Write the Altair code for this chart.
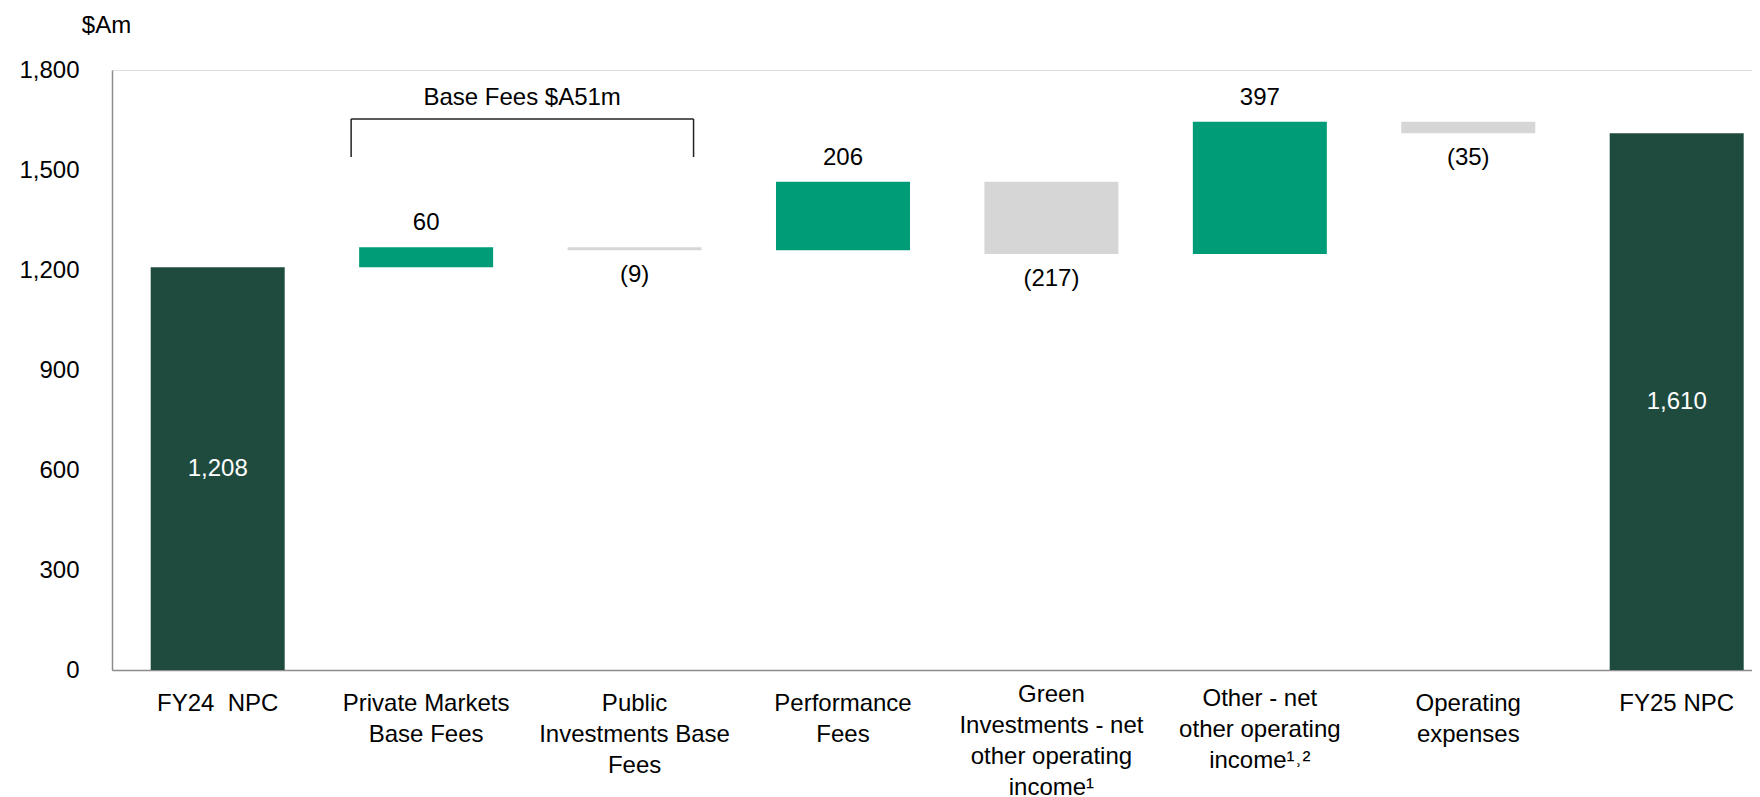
import altair as alt
import pandas as pd

# ---- data ----
categories = [
    "FY24\u00a0 NPC",
    "Private Markets|Base Fees",
    "Public|Investments Base|Fees",
    "Performance|Fees",
    "Green|Investments - net|other operating|income¹",
    "Other - net|other operating|income¹˒²",
    "Operating|expenses",
    "FY25 NPC",
]
changes = [1208, 60, -9, 206, -217, 397, -35, 1610]
kinds = ["total", "up", "down", "up", "down", "up", "down", "total"]
value_labels = ["1,208", "60", "(9)", "206", "(217)", "397", "(35)", "1,610"]
y_ticks = [0, 300, 600, 900, 1200, 1500, 1800]

bracket_text = ["Base Fees $A51m"]
bracket_from = [categories[1]]
bracket_to = [categories[2]]
bracket_top = [1653]
bracket_bottom = [1539]
bracket_text_y = [1716]

# ---- build waterfall table ----
starts, ends, label_y = [], [], []
level = 0
for c, k in zip(changes, kinds):
    if k == "total":
        starts.append(0)
        ends.append(c)
        label_y.append(c / 2)
        level = c
    else:
        starts.append(level)
        level += c
        ends.append(level)
        label_y.append(level)

df = pd.DataFrame({
    "cat": categories, "start": starts, "end": ends, "kind": kinds,
    "label": value_labels, "label_y": label_y,
})
br = pd.DataFrame({
    "cat": bracket_from, "cat_to": bracket_to, "top": bracket_top,
    "bottom": bracket_bottom, "text": bracket_text, "ty": bracket_text_y,
})

FONT = "Liberation Sans"
DARK = "#1F4B3F"
GREEN = "#009B77"
GREY = "#D6D6D6"

xscale = alt.Scale(domain=categories, paddingInner=0.3571, paddingOuter=0.11275,
                   align=0.8234, round=False)
yscale = alt.Scale(domain=[0, 1800], nice=False, zero=True)

xaxis = alt.Axis(
    title=None, labelAngle=0, ticks=False, tickSize=0, grid=False,
    labelExpr="split(datum.label, '|')", labelFontSize=24, labelFont=FONT,
    labelColor="#000000", labelBaseline="top",
    labelPadding={"condition": [
        {"test": "indexof(datum.value, 'Green') == 0", "value": 12},
        {"test": "indexof(datum.value, 'Other') == 0", "value": 16},
    ], "value": 21},
    labelLineHeight=31, labelLimit=400,
    domainColor="#8C8C8C", domainWidth=1.5,
)
yaxis = alt.Axis(
    values=y_ticks, labelExpr="format(datum.value, ',')", ticks=False, tickSize=0,
    grid=False, labelFontSize=24, labelFont=FONT, labelColor="#000000", labelPadding=33,
    domainColor="#8C8C8C", domainWidth=1.5,
    title="$Am", titleAngle=0, titleAlign="center", titleBaseline="middle",
    titleX=-6, titleY=-45, titleFontSize=24, titleFont=FONT,
    titleFontWeight="normal", titleColor="#000000",
)

X = alt.X("cat:N", sort=categories, scale=xscale, axis=xaxis)

def Y(field):
    return alt.Y(f"{field}:Q", scale=yscale, axis=yaxis)

base = alt.Chart(df)

bars = base.mark_bar().encode(
    x=X,
    y=Y("start"),
    y2="end:Q",
    color=alt.Color("kind:N", scale=alt.Scale(domain=["total", "up", "down"],
                                              range=[DARK, GREEN, GREY]), legend=None),
)

txt_total = base.transform_filter(alt.datum.kind == "total").mark_text(
    color="white", fontSize=24, font=FONT, baseline="middle"
).encode(x=X, y=Y("label_y"), text="label:N")

txt_up = base.transform_filter(alt.datum.kind == "up").mark_text(
    color="#000000", fontSize=24, font=FONT, baseline="middle", dy=-24
).encode(x=X, y=Y("label_y"), text="label:N")

txt_down = base.transform_filter(alt.datum.kind == "down").mark_text(
    color="#000000", fontSize=24, font=FONT, baseline="middle", dy=25
).encode(x=X, y=Y("label_y"), text="label:N")

bb = alt.Chart(br)
br_h = bb.mark_rule(color="#222222", strokeWidth=1.5, xOffset=-75, x2Offset=59).encode(
    x=X, x2="cat_to:N", y=Y("top"))
br_l = bb.mark_rule(color="#222222", strokeWidth=1.5, xOffset=-75).encode(
    x=X, y=Y("bottom"), y2="top:Q")
br_r = bb.mark_rule(color="#222222", strokeWidth=1.5, xOffset=59).encode(
    x=alt.X("cat_to:N", sort=categories, scale=xscale, axis=xaxis), y=Y("bottom"), y2="top:Q")
br_t = bb.mark_text(color="#000000", fontSize=24, font=FONT, baseline="middle", dx=96).encode(
    x=X, y=Y("ty"), text="text:N")

chart = alt.layer(bars, txt_total, txt_up, txt_down, br_h, br_l, br_r, br_t).properties(
    width=1640, height=600,
    autosize=alt.AutoSizeParams(type="none"),
    padding={"left": 104, "top": 62, "right": 0, "bottom": 127},
).configure_view(stroke=None).configure(font=FONT)

chart.save("out.html", embed_options={"renderer": "svg", "actions": False})
